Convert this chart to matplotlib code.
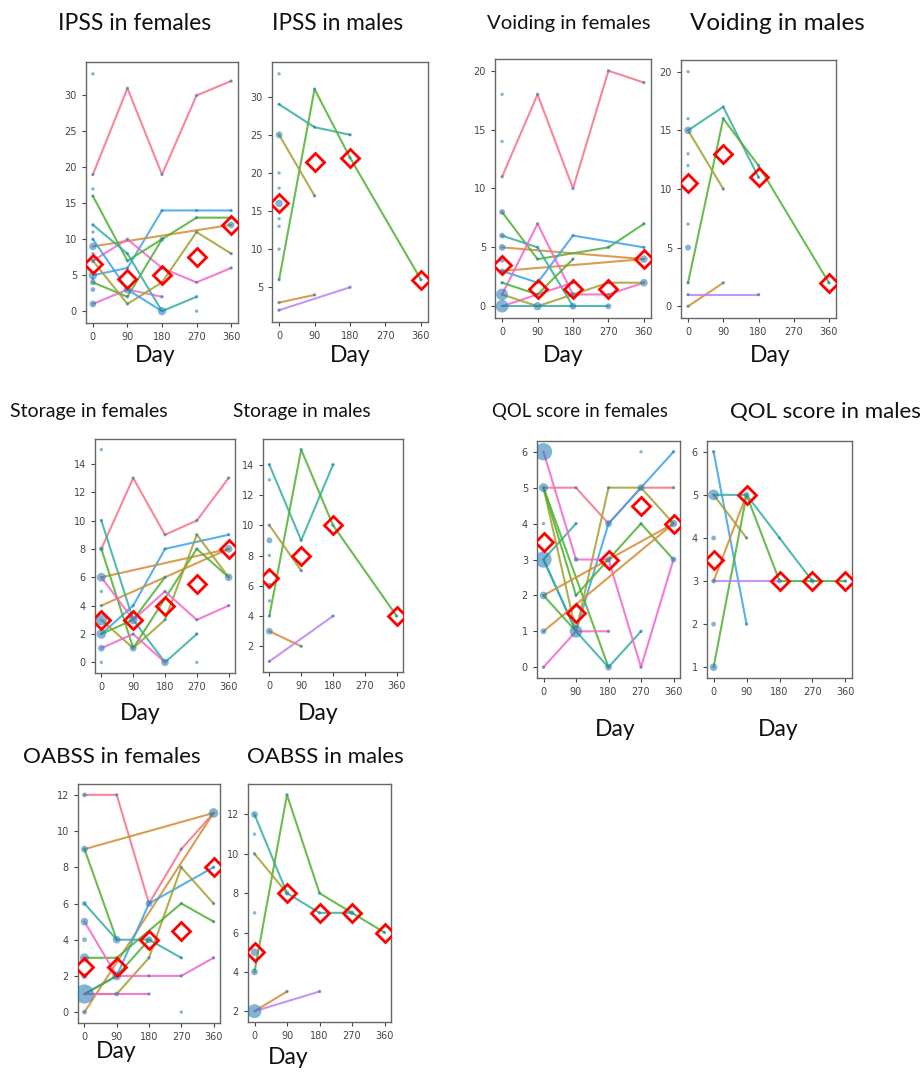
import numpy as np
import matplotlib.pyplot as plt
from matplotlib.ticker import MultipleLocator
from collections import Counter

days = [0, 90, 180, 270, 360]

# line colours (husl 8)
pal = ['#f77189', '#d58c32', '#a4a031', '#50b131', '#36ada4', '#3ba3ec', '#bb83f4', '#f565cc']

# each line: (colour index, days, values); pts: extra patients (day, value, count); mean: red diamonds
ipss_f_lines = [
    (0, [0, 90, 180, 270, 360], [19, 31, 19, 30, 32]),
    (5, [0, 90, 180, 270, 360], [5, 6, 14, 14, 14]),
    (1, [0, 360], [9, 12]),
    (7, [0, 90, 180, 270, 360], [7, 10, 6, 4, 6]),
    (7, [0, 90, 180], [1, 3, 2]),
    (3, [0, 90, 180, 270, 360], [16, 7, 10, 13, 13]),
    (3, [0, 90, 180], [4, 2, 10]),
    (4, [0, 90, 180, 270], [12, 8, 0, 2]),
    (2, [0, 90, 180, 270, 360], [7, 1, 4, 11, 8]),
    (5, [0, 90, 180], [10, 3, 0]),
]
ipss_f_pts = [(0, 33, 1), (0, 17, 1), (0, 11, 1), (0, 9, 4), (0, 8, 1), (0, 5, 5), (0, 4.5, 1),
              (0, 4, 2), (0, 3, 2), (0, 1, 3), (90, 3, 3), (180, 0, 4), (270, 0, 1), (360, 12, 3)]
ipss_f_mean = [6.5, 4.5, 5, 7.5, 12]

ipss_m_lines = [
    (4, [0, 90, 180], [29, 26, 25]),
    (3, [0, 90, 180, 360], [6, 31, 22, 6]),
    (2, [0, 90], [25, 17]),
    (1, [0, 90], [3, 4]),
    (6, [0, 180], [2, 5]),
]
ipss_m_pts = [(0, 33, 1), (0, 25, 3), (0, 20, 1), (0, 18, 1), (0, 16, 5), (0, 14, 1), (0, 13, 1), (0, 10, 1)]
ipss_m_mean = [16, 21.5, 22, None, 6]

void_f_lines = [
    (0, [0, 90, 180, 270, 360], [11, 18, 10, 20, 19]),
    (1, [0, 360], [5, 4]),
    (1, [0, 360], [3, 4]),
    (3, [0, 90, 270, 360], [8, 4, 5, 7]),
    (4, [0, 90, 180], [6, 5, 0]),
    (5, [0, 90, 180, 360], [3, 2, 6, 5]),
    (7, [0, 90, 180, 270, 360], [1, 7, 1, 1, 2]),
    (7, [0, 180], [0, 2]),
    (2, [0, 90, 180, 270, 360], [1, 0, 1, 2, 2]),
    (3, [0, 90, 180], [2, 1, 4]),
    (4, [0, 90, 180, 270], [0, 0, 0, 0]),
]
void_f_pts = [(0, 18, 1), (0, 14, 1), (0, 8, 2), (0, 6, 2), (0, 5, 3), (0, 4, 4), (0, 1, 10), (0, 0, 12),
              (90, 0, 4), (180, 0, 2), (270, 0, 2), (360, 4, 3), (360, 2, 3)]
void_f_mean = [3.5, 1.5, 1.5, 1.5, 4]

void_m_lines = [
    (4, [0, 90, 180], [15, 17, 11]),
    (3, [0, 90, 180, 360], [2, 16, 12, 2]),
    (2, [0, 90], [15, 10]),
    (1, [0, 90], [0, 2]),
    (6, [0, 180], [1, 1]),
]
void_m_pts = [(0, 20, 1), (0, 16, 1), (0, 15, 3), (0, 13, 1), (0, 12, 1), (0, 7, 1), (0, 5, 3)]
void_m_mean = [10.5, 13, 11, None, 2]

stor_f_lines = [
    (0, [0, 90, 180, 270, 360], [8, 13, 9, 10, 13]),
    (5, [0, 90, 180, 360], [2, 4, 8, 9]),
    (1, [0, 360], [6, 8]),
    (1, [0, 360], [4, 8]),
    (4, [0, 90, 180, 270], [10, 3, 0, 2]),
    (3, [0, 90, 270, 360], [8, 1, 8, 6]),
    (3, [0, 90, 180], [2, 3, 6]),
    (2, [0, 90, 180, 270, 360], [3, 1, 3, 9, 6]),
    (7, [0, 90, 180, 270, 360], [6, 3, 5, 3, 4]),
    (7, [0, 90, 180], [1, 2, 0]),
]
stor_f_pts = [(0, 15, 1), (0, 6, 5), (0, 5, 1), (0, 3, 10), (0, 2, 6), (0, 1, 3), (0, 0, 1),
              (90, 3, 4), (90, 1, 2), (180, 0, 3), (270, 0, 1), (360, 8, 3), (360, 6, 3)]
stor_f_mean = [3, 3, 4, 5.5, 8]

stor_m_lines = [
    (4, [0, 90, 180], [14, 9, 14]),
    (3, [0, 90, 180, 360], [4, 15, 10, 4]),
    (2, [0, 90], [10, 7]),
    (1, [0, 90], [3, 2]),
    (6, [0, 180], [1, 4]),
]
stor_m_pts = [(0, 13, 1), (0, 9, 3), (0, 8, 1), (0, 7, 1), (0, 6, 3), (0, 5, 1), (0, 3, 3)]
stor_m_mean = [6.5, 8, 10, None, 4]

qol_f_lines = [
    (0, [0, 90, 180, 270, 360], [5, 5, 4, 5, 5]),
    (5, [0, 90, 180, 270, 360], [3, 1, 4, 5, 6]),
    (4, [0, 90], [3, 4]),
    (2, [0, 90, 180, 270, 360], [5, 1, 5, 5, 4]),
    (3, [0, 90, 180, 270, 360], [5, 2, 3, 4, 3]),
    (3, [0, 180], [5, 0]),
    (4, [0, 90, 180, 270], [3, 1, 0, 1]),
    (7, [0, 90, 180, 270, 360], [6, 3, 3, 0, 3]),
    (7, [0, 90, 180], [0, 1, 1]),
    (1, [0, 360], [2, 4]),
    (1, [0, 360], [1, 4]),
    (3, [0, 90], [2, 1]),
]
qol_f_pts = [(0, 6, 25), (0, 5, 3), (0, 4, 1), (0, 3, 20), (0, 2, 3), (0, 1, 2), (90, 1, 9), (90, 3, 1),
             (180, 0, 2), (180, 4, 2), (180, 3, 1), (270, 6, 1), (270, 5, 1), (360, 4, 2), (360, 3, 1)]
qol_f_mean = [3.5, 1.5, 3, 4.5, 4]

qol_m_lines = [
    (5, [0, 90], [6, 2]),
    (4, [0, 90, 180, 270], [5, 5, 4, 3]),
    (2, [0, 90], [5, 4]),
    (1, [0, 90], [3, 5]),
    (3, [0, 90, 180, 270, 360], [1, 5, 3, 3, 3]),
    (6, [0, 180], [3, 3]),
]
qol_m_pts = [(0, 5, 8), (0, 4, 2), (0, 2, 2), (0, 1, 4)]
qol_m_mean = [3.5, 5, 3, 3, 3]

oab_f_lines = [
    (0, [0, 90, 180, 270, 360], [12, 12, 6, 9, 11]),
    (1, [0, 360], [9, 11]),
    (1, [0, 360], [0, 11]),
    (3, [0, 90], [9, 4]),
    (4, [0, 90, 180, 270], [6, 4, 4, 3]),
    (5, [0, 90, 180, 360], [1, 2, 6, 8]),
    (2, [0, 90, 180, 270, 360], [1, 1, 3, 8, 6]),
    (3, [0, 90, 270, 360], [3, 3, 6, 5]),
    (3, [0, 90, 180], [1, 2, 4]),
    (7, [0, 90, 180, 270, 360], [5, 2, 2, 2, 3]),
    (7, [0, 90, 180], [1, 1, 1]),
]
oab_f_pts = [(0, 12, 1), (0, 9, 2), (0, 6, 1), (0, 5, 4), (0, 4, 2), (0, 3, 6), (0, 2, 3), (0, 1, 28),
             (0, 0, 1), (90, 4, 3), (90, 2, 4), (180, 6, 2), (180, 4, 2), (270, 0, 1), (360, 11, 5)]
oab_f_mean = [2.5, 2.5, 4, 4.5, 8]

oab_m_lines = [
    (4, [0, 90, 180, 270], [12, 8, 7, 7]),
    (3, [0, 90, 180, 270, 360], [4, 13, 8, 7, 6]),
    (2, [0, 90], [10, 8]),
    (1, [0, 90], [2, 3]),
    (6, [0, 180], [2, 3]),
]
oab_m_pts = [(0, 12, 3), (0, 11, 1), (0, 7, 1), (0, 5, 5), (0, 4, 3), (0, 2, 15)]
oab_m_mean = [5, 8, 7, 7, 6]

titles = ['IPSS in females', 'IPSS in males', 'Voiding in females', 'Voiding in males',
          'Storage in females', 'Storage in males', 'QOL score in females', 'QOL score in males',
          'OABSS in females', 'OABSS in males']

W, H = 922, 1072
fig = plt.figure(figsize=(W / 100, H / 100), dpi=100)


def draw(box, lines, pts, mean, ystep):
    l, t, r, b = box
    ax = fig.add_axes([l / W, 1 - b / H, (r - l) / W, (b - t) / H])
    cnt = Counter()
    for c, x, y in lines:
        ax.plot(x, y, color=pal[c], lw=1.5, alpha=0.85, zorder=2)
        for xi, yi in zip(x, y):
            cnt[(xi, yi)] += 1
    for xi, yi, n in pts:
        cnt[(xi, yi)] += n
    xs = [k[0] for k in cnt]
    ys = [k[1] for k in cnt]
    ss = [6 * v for v in cnt.values()]
    ax.scatter(xs, ys, s=ss, color='#1f77b4', alpha=0.55, lw=0, zorder=3)
    md = [d for d, m in zip(days, mean) if m is not None]
    mv = [m for m in mean if m is not None]
    ax.plot(md, mv, ls='none', marker='D', ms=9, mfc='none', mec='red', mew=2, zorder=5)
    ax.set_xticks(days)
    ax.yaxis.set_major_locator(MultipleLocator(ystep))
    ax.tick_params(labelsize=7, colors='#444', length=3, width=0.8)
    for s in ax.spines.values():
        s.set_color('#666')
        s.set_linewidth(1.0)
    return ax


draw((86, 62, 238, 323), ipss_f_lines, ipss_f_pts, ipss_f_mean, 5)
draw((272, 62, 428, 322), ipss_m_lines, ipss_m_pts, ipss_m_mean, 5)
draw((495, 59, 651, 318), void_f_lines, void_f_pts, void_f_mean, 5)
draw((681, 60, 836, 318), void_m_lines, void_m_pts, void_m_mean, 5)
draw((95, 439, 235, 673), stor_f_lines, stor_f_pts, stor_f_mean, 2)
draw((263, 439, 403, 672), stor_m_lines, stor_m_pts, stor_m_mean, 2)
draw((537, 441, 680, 678), qol_f_lines, qol_f_pts, qol_f_mean, 1)
draw((707, 441, 852, 678), qol_m_lines, qol_m_pts, qol_m_mean, 1)
draw((78, 784, 220, 1023), oab_f_lines, oab_f_pts, oab_f_mean, 2)
draw((248, 784, 391, 1022), oab_m_lines, oab_m_pts, oab_m_mean, 2)

# titles (left edge, centre y, size) and "Day" labels, placed like the pasted panels
title_pos = [(58, 23, 16.5), (272, 23, 16.3), (487, 23, 14.6), (690, 23, 17.5),
             (10, 412, 14), (233, 412, 13.8), (492, 412, 13.4), (730, 412, 16),
             (23, 757, 16.2), (247, 757, 16)]
day_pos = [(155, 356), (350, 356), (563, 356), (770, 356), (140, 713), (318, 713),
           (615, 729), (778, 729), (116, 1052), (288, 1057)]
for t, (x, y, fs) in zip(titles, title_pos):
    fig.text(x / W, 1 - y / H, t, ha='left', va='center', fontsize=fs, family='Lato', color='#111')
for x, y in day_pos:
    fig.text(x / W, 1 - y / H, 'Day', ha='center', va='center', fontsize=16.5, family='Lato', color='#111')

fig.savefig('out.png', dpi=100)
